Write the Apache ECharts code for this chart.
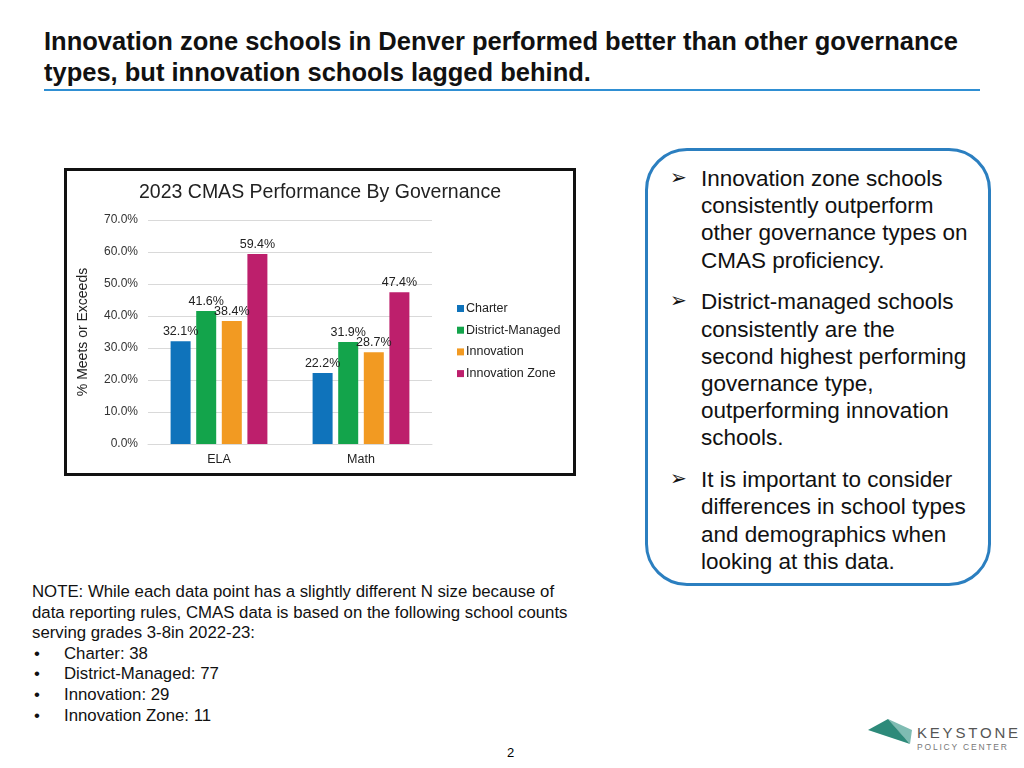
<!DOCTYPE html>
<html><head><meta charset="utf-8">
<script src="https://cdn.jsdelivr.net/npm/echarts@6/dist/echarts.min.js"></script>
<style>
body{margin:0;width:1024px;height:768px;background:#fff;font-family:"Liberation Sans",Arial,sans-serif;position:relative;overflow:hidden;color:#000}
#title{position:absolute;left:44px;top:26px;font-size:25.5px;font-weight:bold;line-height:30.5px;color:#111;white-space:nowrap}
#rule{position:absolute;left:44px;top:89px;width:936px;height:2px;background:#2f8fd3}
#box{position:absolute;left:64px;top:168px;width:506px;height:302px;border:3px solid #111}
#chart{width:506px;height:302px}
#callout{position:absolute;left:645px;top:148px;width:346px;height:438px;border:3px solid #2b7fc0;border-radius:42px;box-sizing:border-box}
#callout ul{list-style:none;margin:0;padding:0;position:absolute;left:22px;top:14px;width:330px}
#callout li{position:relative;padding-left:31px;font-size:22.5px;line-height:27.2px;margin-bottom:14.6px;color:#111;white-space:nowrap}
#callout li:before{content:"\27A2";position:absolute;left:0;top:-1px;font-size:20px;font-family:"DejaVu Sans"}
#note{position:absolute;left:32px;top:582px;font-size:16.8px;line-height:20.6px;color:#111;white-space:nowrap}
#note .b{padding-left:32px;position:relative}
#note .b:before{content:"\2022";position:absolute;left:2px}
#page{position:absolute;left:507px;top:745px;font-size:13px}
#logo{position:absolute;left:866px;top:716px}
</style></head><body>
<div id="title">Innovation zone schools in Denver performed better than other governance<br>types, but innovation schools lagged behind.</div>
<div id="rule"></div>
<div id="box"><div id="chart"></div></div>
<div id="callout"><ul>
<li>Innovation zone schools<br>consistently outperform<br>other governance types on<br>CMAS proficiency.</li>
<li>District-managed schools<br>consistently are the<br>second highest performing<br>governance type,<br>outperforming innovation<br>schools.</li>
<li>It is important to consider<br>differences in school types<br>and demographics when<br>looking at this data.</li>
</ul></div>
<div id="note">NOTE: While each data point has a slightly different N size because of<br>data reporting rules, CMAS data is based on the following school counts<br>serving grades 3-8in 2022-23:
<div class="b">Charter: 38</div><div class="b">District-Managed: 77</div><div class="b">Innovation: 29</div><div class="b">Innovation Zone: 11</div></div>
<div id="page">2</div>
<div id="logo"><svg width="156" height="40">
<polygon points="2,14 22,3 44,28" fill="#2d8a7a"/>
<polygon points="22,3 44,28 32,12" fill="#1f6b5e"/>
<polygon points="22,3 44,28 46,14" fill="#7fbcb3"/>
<polygon points="2,14 44,28 14,18" fill="#17594f"/>
<text x="51" y="22" font-family="Liberation Sans,Arial" font-size="15" letter-spacing="2.8" fill="#555">KEYSTONE</text>
<text x="51" y="34" font-family="Liberation Sans,Arial" font-size="8.5" letter-spacing="1.8" fill="#777">POLICY CENTER</text>
</svg></div>
<script>
var categories = ["ELA", "Math"];
var seriesNames = ["Charter", "District-Managed", "Innovation", "Innovation Zone"];
var charter = [32.1, 22.2];
var districtManaged = [41.6, 31.9];
var innovation = [38.4, 28.7];
var innovationZone = [59.4, 47.4];
var yTicks = [0, 10, 20, 30, 40, 50, 60, 70];
var colors = ["#0f73bb", "#13a44b", "#f29a22", "#bd1f6c"];
var values = [charter, districtManaged, innovation, innovationZone];

var chart = echarts.init(document.getElementById('chart'));
chart.setOption({
  animation:false,
  title:{text:"2023 CMAS Performance By Governance",left:'center',top:7,textStyle:{fontSize:19.5,fontWeight:'normal',color:'#222',fontFamily:'Liberation Sans'}},
  legend:{orient:'vertical',left:385,top:126,itemWidth:7,itemHeight:7,itemGap:8.7,icon:'rect',
    textStyle:{fontSize:12.5,color:'#222',fontFamily:'Liberation Sans',padding:[0,0,0,-3]},data:seriesNames},
  grid:{left:81,top:49,width:284,height:224},
  xAxis:{type:'category',data:categories,axisTick:{show:false},axisLine:{lineStyle:{color:'#d9d9d9'}},
    axisLabel:{fontSize:12.5,color:'#222',margin:9,fontFamily:'Liberation Sans'}},
  yAxis:{type:'value',min:yTicks[0],max:yTicks[yTicks.length-1],interval:10,
    name:"% Meets or Exceeds",nameLocation:'middle',nameGap:58,nameRotate:90,
    nameTextStyle:{fontSize:14,color:'#222',fontFamily:'Liberation Sans'},
    axisLabel:{formatter:function(v){return v.toFixed(1)+'%';},fontSize:12,color:'#333',margin:10,fontFamily:'Liberation Sans'},
    splitLine:{lineStyle:{color:'#d9d9d9'}},axisLine:{show:false},axisTick:{show:false}},
  series:seriesNames.map(function(n,i){return {name:n,type:'bar',data:values[i],barWidth:20,barGap:'28%',
    itemStyle:{color:colors[i]},
    label:{show:true,position:'top',distance:3,formatter:function(p){return p.value.toFixed(1)+'%';},fontSize:12.5,color:'#222',fontFamily:'Liberation Sans'}};})
});
</script>
</body></html>
